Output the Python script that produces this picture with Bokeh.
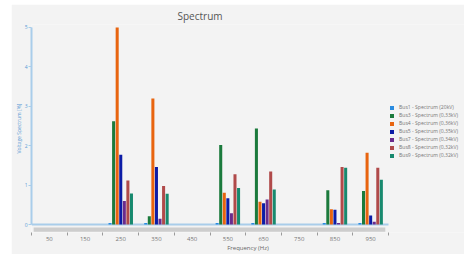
from bokeh.plotting import figure
from bokeh.models import (Range1d, FixedTicker, Legend, LegendItem,
                          ColumnDataSource)
from bokeh.transform import dodge
from bokeh.embed import file_html
from bokeh.resources import INLINE

freqs = [50, 150, 250, 350, 450, 550, 650, 750, 850, 950]
boundaries = [0, 100, 200, 300, 400, 500, 600, 700, 800, 900, 1000]
bus1 = [0, 0, 0.04, 0.04, 0, 0.04, 0.04, 0, 0.04, 0.04]
bus3 = [0, 0, 2.62, 0.21, 0, 2.02, 2.44, 0, 0.87, 0.85]
bus4 = [0, 0, 5.00, 3.20, 0, 0.81, 0.58, 0, 0.39, 1.82]
bus5 = [0, 0, 1.77, 1.46, 0, 0.67, 0.54, 0, 0.38, 0.23]
bus7 = [0, 0, 0.60, 0.15, 0, 0.29, 0.64, 0, 0.04, 0.07]
bus8 = [0, 0, 1.12, 0.98, 0, 1.28, 1.35, 0, 1.46, 1.44]
bus9 = [0, 0, 0.79, 0.78, 0, 0.93, 0.89, 0, 1.44, 1.14]
labels = ["Bus1 - Spectrum (20kV)", "Bus3 - Spectrum (0,33kV)",
          "Bus4 - Spectrum (0,36kV)", "Bus5 - Spectrum (0,35kV)",
          "Bus7 - Spectrum (0,34kV)", "Bus8 - Spectrum (0,32kV)",
          "Bus9 - Spectrum (0,32kV)"]
y_ticks = [0, 1, 2, 3, 4, 5]

series = [bus1, bus3, bus4, bus5, bus7, bus8, bus9]
colors = ["#2a8be0", "#1b7a3c", "#e8640f", "#0c1ca6", "#6a2b8c", "#b04a4a", "#17896e"]
keys = ["b1", "b3", "b4", "b5", "b7", "b8", "b9"]

data = {"freq": freqs}
for k, s in zip(keys, series):
    data[k] = s
src = ColumnDataSource(data)

FONT = "Open Sans"
BG = "#f3f3f3"

# frame spans to the right edge; the category area covers 0..1000
x_end = boundaries[-1] * 433 / 357

p = figure(width=453, height=250, x_range=Range1d(0, x_end),
           y_range=Range1d(-0.2, 5.075), output_backend="svg",
           toolbar_location=None, min_border_left=20, min_border_right=0,
           min_border_top=18, min_border_bottom=21,
           background_fill_color=BG, border_fill_color=BG)
p.styles = {"margin-left": "11px", "margin-top": "4px"}
p.outline_line_color = None
p.xgrid.visible = False
p.ygrid.visible = False

p.title.text = "Spectrum"
p.title.text_font = FONT
p.title.text_font_size = "10px"
p.title.text_font_style = "normal"
p.title.text_color = "#555555"
p.title.align = "left"
p.title.offset = 146
p.title.standoff = 4

# baseline and scrollbar decoration
p.segment(x0=[boundaries[0]], y0=[0], x1=[boundaries[-1]], y1=[0],
          line_color="#a9cdea", line_width=2, level="underlay")
p.quad(left=6, right=991, bottom=-0.178, top=-0.075, color="#cdcdcd",
       line_color=None, level="underlay")

items = []
offsets = [-30, -20, -10, 0, 10, 20, 30]
for k, c, off, lab in zip(keys, colors, offsets, labels):
    r = p.vbar(x=dodge("freq", off, range=p.x_range), top=k, bottom=0,
               width=8.5, source=src, fill_color=c, line_color=None)
    items.append(LegendItem(label=lab, renderers=[r]))

legend = Legend(items=items, location=(358, 73))
legend.background_fill_alpha = 0
legend.border_line_alpha = 0
legend.padding = 0
legend.margin = 0
legend.spacing = 0
legend.glyph_width = 5
legend.glyph_height = 5
legend.label_height = 8
legend.label_standoff = 5
legend.label_text_font = FONT
legend.label_text_font_size = "5.1px"
legend.label_text_color = "#777777"
p.add_layout(legend)

xa = p.xaxis[0]
xa.ticker = FixedTicker(ticks=freqs, minor_ticks=boundaries)
xa.axis_line_color = None
xa.major_tick_in = 0
xa.major_tick_out = 0
xa.minor_tick_in = 0
xa.minor_tick_out = 3
xa.minor_tick_line_color = "#9a9a9a"
xa.major_label_text_font = FONT
xa.major_label_text_font_size = "6px"
xa.major_label_text_color = "#777777"
xa.major_label_standoff = 1
xa.axis_label = "Frequency (Hz)"
xa.axis_label_text_font = FONT
xa.axis_label_text_font_size = "6px"
xa.axis_label_text_font_style = "normal"
xa.axis_label_text_color = "#666666"
xa.axis_label_standoff = 0

ya = p.yaxis[0]
ya.ticker = FixedTicker(ticks=y_ticks)
ya.bounds = (0, 5)
ya.axis_line_color = "#a9cdea"
ya.axis_line_width = 2
ya.major_tick_in = 0
ya.major_tick_out = 3
ya.major_tick_line_color = "#a9cdea"
ya.minor_tick_line_color = None
ya.major_label_text_font = FONT
ya.major_label_text_font_size = "5px"
ya.major_label_text_color = "#5b9bd5"
ya.major_label_standoff = 1
ya.axis_label = "Voltage Spectrum [%]"
ya.axis_label_text_font = FONT
ya.axis_label_text_font_size = "5px"
ya.axis_label_text_font_style = "normal"
ya.axis_label_text_color = "#5b9bd5"
ya.axis_label_standoff = 0

open("out.html", "w").write(file_html(p, INLINE))
